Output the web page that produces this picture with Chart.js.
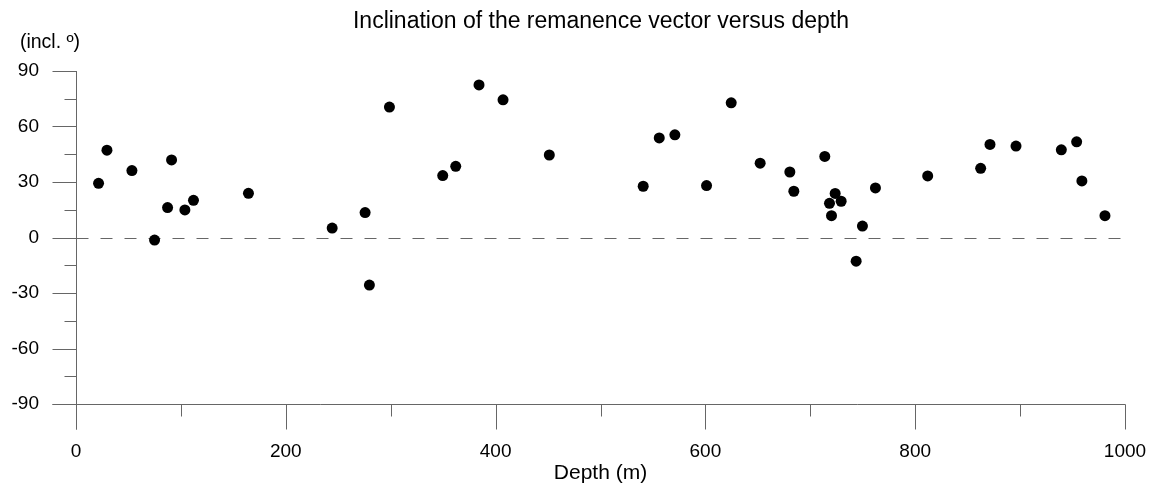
<!DOCTYPE html>
<html>
<head>
<meta charset="utf-8">
<title>Inclination versus depth</title>
<script src="https://cdn.jsdelivr.net/npm/chart.js@4/dist/chart.umd.min.js"></script>
<style>
    html, body { margin: 0; padding: 0; background: #fff; }
    #wrap { width: 1159px; height: 488px; position: relative; }
</style>
</head>
<body>
<div id="wrap"><canvas id="inclChart"></canvas></div>
<script>
// Depth (m) and inclination (deg)
const depths = [21.5, 29.5, 53.3, 74.9, 87.3, 91.1, 103.8, 112.0, 164.4, 244.2,
    275.6, 279.7, 298.8, 349.6, 362.0, 384.2, 407.1, 451.2, 540.7, 556.0,
    570.9, 601.1, 624.6, 652.2, 680.5, 684.3, 713.8, 718.3, 720.2, 723.7,
    729.4, 743.7, 749.7, 762.1, 811.9, 862.4, 871.3, 896.1, 939.3, 953.9,
    958.9, 980.9];
const inclinations = [29.3, 47.2, 36.2, -1.4, 16.2, 41.9, 14.9, 20.1, 23.9, 5.1,
    13.5, -25.7, 70.5, 33.5, 38.5, 82.5, 74.4, 44.6, 27.7, 53.8,
    55.5, 28.1, 72.8, 40.2, 35.4, 25.0, 43.8, 18.5, 11.8, 23.8,
    19.6, -12.8, 6.2, 26.8, 33.3, 37.4, 50.3, 49.4, 47.4, 51.7,
    30.6, 11.8];

const xMajorTicks = [0, 200, 400, 600, 800, 1000];
const xMinorTicks = [100, 300, 500, 700, 900];
const yMajorTicks = [-90, -60, -30, 0, 30, 60, 90];
const yMinorTicks = [-75, -45, -15, 15, 45, 75];

const titleText = 'Inclination of the remanence vector versus depth';
const xTitleText = 'Depth (m)';
const yTitleText = '(incl. º)';

const FONT = '"Liberation Sans", Arial, sans-serif';
const AXIS_COLOR = '#666666';

// Draws the axes, ticks, labels and the dashed zero line by hand
const axesPlugin = {
    id: 'axesPlugin',
    beforeDatasetsDraw(chart) {
        const ctx = chart.ctx;
        const xs = chart.scales.x;
        const ys = chart.scales.y;
        const area = chart.chartArea;
        const x0 = Math.round(xs.getPixelForValue(0)) + 0.5;
        const xEnd = Math.round(xs.getPixelForValue(1000)) + 0.5;
        const yBottom = Math.round(ys.getPixelForValue(-90)) + 0.5;
        const yTop = ys.getPixelForValue(90);
        const yZero = Math.round(ys.getPixelForValue(0)) + 0.5;

        ctx.save();
        ctx.strokeStyle = AXIS_COLOR;
        ctx.lineWidth = 1;

        // dashed zero line
        ctx.setLineDash([12, 12]);
        ctx.beginPath();
        ctx.moveTo(x0, yZero);
        ctx.lineTo(xEnd, yZero);
        ctx.stroke();
        ctx.setLineDash([]);

        ctx.beginPath();
        // y axis (runs down to the end of the x major ticks)
        ctx.moveTo(x0, yTop);
        ctx.lineTo(x0, yBottom + 25);
        // x axis (starts at the end of the y major ticks)
        ctx.moveTo(x0 - 24, yBottom);
        ctx.lineTo(xEnd, yBottom);

        xMajorTicks.forEach(function(v) {
            const px = Math.round(xs.getPixelForValue(v)) + 0.5;
            ctx.moveTo(px, yBottom);
            ctx.lineTo(px, yBottom + 25);
        });
        xMinorTicks.forEach(function(v) {
            const px = Math.round(xs.getPixelForValue(v)) + 0.5;
            ctx.moveTo(px, yBottom);
            ctx.lineTo(px, yBottom + 12);
        });
        yMajorTicks.forEach(function(v) {
            const py = Math.round(ys.getPixelForValue(v)) + 0.5;
            ctx.moveTo(x0 - 24, py);
            ctx.lineTo(x0, py);
        });
        yMinorTicks.forEach(function(v) {
            const py = Math.round(ys.getPixelForValue(v)) + 0.5;
            ctx.moveTo(x0 - 12, py);
            ctx.lineTo(x0, py);
        });
        ctx.stroke();

        // tick labels
        ctx.fillStyle = '#000';
        ctx.font = '19px ' + FONT;
        ctx.textBaseline = 'middle';
        ctx.textAlign = 'center';
        xMajorTicks.forEach(function(v) {
            ctx.fillText(String(v), xs.getPixelForValue(v), 452);
        });
        ctx.textAlign = 'right';
        yMajorTicks.forEach(function(v) {
            ctx.fillText(String(v), 39, ys.getPixelForValue(v));
        });

        // titles
        ctx.textAlign = 'center';
        ctx.font = '21px ' + FONT;
        ctx.fillText(xTitleText, (area.left + area.right) / 2, 473);
        ctx.font = '19.5px ' + FONT;
        ctx.fillText(yTitleText, 50, 43);
        ctx.font = '23px ' + FONT;
        ctx.fillText(titleText, 601, 22);
        ctx.restore();
    }
};

document.addEventListener('DOMContentLoaded', function() {
    const canvas = document.getElementById('inclChart');
    const points = depths.map(function(d, i) {
        return { x: d, y: inclinations[i] };
    });

    new Chart(canvas, {
        type: 'scatter',
        data: {
            datasets: [{
                label: 'Inclination',
                data: points,
                backgroundColor: '#000',
                borderWidth: 0,
                pointRadius: 5.5,
                pointHoverRadius: 5.5
            }]
        },
        options: {
            responsive: true,
            maintainAspectRatio: false,
            animation: false,
            layout: {
                padding: { left: 76, top: 71, right: 34, bottom: 84 }
            },
            plugins: {
                legend: { display: false },
                tooltip: { enabled: false }
            },
            scales: {
                x: { type: 'linear', min: 0, max: 1000, display: false },
                y: { type: 'linear', min: -90, max: 90, display: false }
            }
        },
        plugins: [axesPlugin]
    });
});
</script>
</body>
</html>
